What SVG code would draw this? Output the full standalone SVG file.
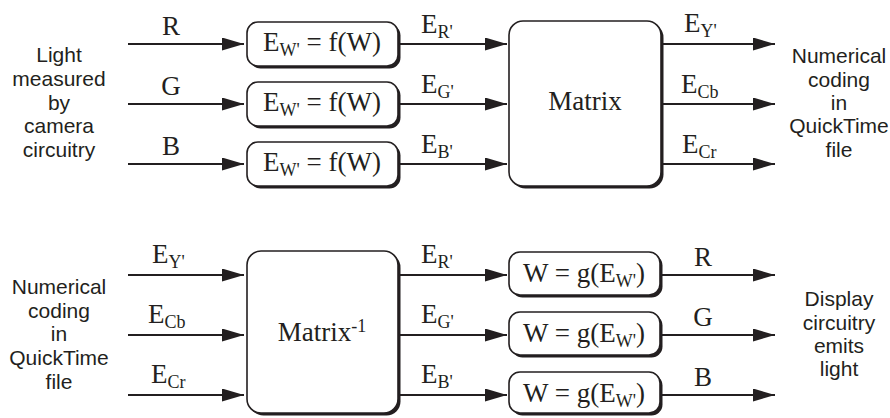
<svg xmlns="http://www.w3.org/2000/svg" width="890" height="418" viewBox="0 0 890 418">
<style>
.ln{stroke:#231f20;stroke-width:2;fill:none}
.bx{fill:#fff;stroke:#231f20;stroke-width:1.6}
.sh{fill:#231f20;stroke:none}
.sf{font-family:"Liberation Sans",Arial,sans-serif;font-size:21px;fill:#231f20;text-anchor:middle}
.tm{font-family:"Liberation Serif","Times New Roman",serif;font-size:27px;fill:#231f20}
.mid{text-anchor:middle}
.sub{font-size:18px}
</style>
<defs>
<marker id="ah" markerUnits="userSpaceOnUse" markerWidth="23" markerHeight="13" refX="22" refY="6.5" orient="auto">
<path d="M0,0 L22,6.5 L0,13 z" fill="#231f20"/>
</marker>
</defs>
<g id="connectors">
<line class="ln" x1="128" y1="44" x2="244" y2="44" marker-end="url(#ah)"/>
<line class="ln" x1="128" y1="104" x2="244" y2="104" marker-end="url(#ah)"/>
<line class="ln" x1="128" y1="164" x2="244" y2="164" marker-end="url(#ah)"/>
<line class="ln" x1="398" y1="44" x2="507" y2="44" marker-end="url(#ah)"/>
<line class="ln" x1="398" y1="104" x2="507" y2="104" marker-end="url(#ah)"/>
<line class="ln" x1="398" y1="164" x2="507" y2="164" marker-end="url(#ah)"/>
<line class="ln" x1="661" y1="44" x2="775" y2="44" marker-end="url(#ah)"/>
<line class="ln" x1="661" y1="104" x2="775" y2="104" marker-end="url(#ah)"/>
<line class="ln" x1="661" y1="164" x2="775" y2="164" marker-end="url(#ah)"/>
<line class="ln" x1="128" y1="275" x2="244" y2="275" marker-end="url(#ah)"/>
<line class="ln" x1="128" y1="335" x2="244" y2="335" marker-end="url(#ah)"/>
<line class="ln" x1="128" y1="395" x2="244" y2="395" marker-end="url(#ah)"/>
<line class="ln" x1="398" y1="275" x2="507" y2="275" marker-end="url(#ah)"/>
<line class="ln" x1="398" y1="335" x2="507" y2="335" marker-end="url(#ah)"/>
<line class="ln" x1="398" y1="395" x2="507" y2="395" marker-end="url(#ah)"/>
<line class="ln" x1="661" y1="275" x2="775" y2="275" marker-end="url(#ah)"/>
<line class="ln" x1="661" y1="335" x2="775" y2="335" marker-end="url(#ah)"/>
<line class="ln" x1="661" y1="395" x2="775" y2="395" marker-end="url(#ah)"/>
<text class="tm mid" x="171" y="35">R</text>
<text class="tm mid" x="171" y="95">G</text>
<text class="tm mid" x="171" y="155">B</text>
<text class="tm" x="421" y="33">E<tspan class="sub" dy="5">R'</tspan></text>
<text class="tm" x="421" y="93">E<tspan class="sub" dy="5">G'</tspan></text>
<text class="tm" x="421" y="153">E<tspan class="sub" dy="5">B'</tspan></text>
<text class="tm" x="684" y="32">E<tspan class="sub" dy="5">Y'</tspan></text>
<text class="tm" x="681" y="93">E<tspan class="sub" dy="5">Cb</tspan></text>
<text class="tm" x="682" y="153">E<tspan class="sub" dy="5">Cr</tspan></text>
<text class="tm" x="152" y="263">E<tspan class="sub" dy="5">Y'</tspan></text>
<text class="tm" x="148" y="323">E<tspan class="sub" dy="5">Cb</tspan></text>
<text class="tm" x="151" y="383">E<tspan class="sub" dy="5">Cr</tspan></text>
<text class="tm" x="421" y="263">E<tspan class="sub" dy="5">R'</tspan></text>
<text class="tm" x="421" y="323">E<tspan class="sub" dy="5">G'</tspan></text>
<text class="tm" x="421" y="383">E<tspan class="sub" dy="5">B'</tspan></text>
<text class="tm mid" x="703" y="266">R</text>
<text class="tm mid" x="703" y="326">G</text>
<text class="tm mid" x="703" y="386">B</text>
</g>
<g id="camera-label">
<text class="sf" x="59" y="62">Light</text>
<text class="sf" x="59" y="86">measured</text>
<text class="sf" x="59" y="110">by</text>
<text class="sf" x="59" y="133">camera</text>
<text class="sf" x="59" y="157">circuitry</text>
</g>
<g id="file-out-label">
<text class="sf" x="839" y="63">Numerical</text>
<text class="sf" x="839" y="87">coding</text>
<text class="sf" x="839" y="110">in</text>
<text class="sf" x="839" y="133">QuickTime</text>
<text class="sf" x="839" y="157">file</text>
</g>
<g id="file-in-label">
<text class="sf" x="59" y="294">Numerical</text>
<text class="sf" x="59" y="318">coding</text>
<text class="sf" x="59" y="341">in</text>
<text class="sf" x="59" y="365">QuickTime</text>
<text class="sf" x="59" y="389">file</text>
</g>
<g id="display-label">
<text class="sf" x="839" y="306">Display</text>
<text class="sf" x="839" y="330">circuitry</text>
<text class="sf" x="839" y="353">emits</text>
<text class="sf" x="839" y="376">light</text>
</g>
<g id="f1">
<rect class="sh" x="249.5" y="24.5" width="151" height="44" rx="11"/>
<rect class="bx" x="247" y="22" width="151" height="44" rx="11"/>
<text class="tm mid" x="322" y="51">E<tspan class="sub" dy="5">W'</tspan><tspan dy="-5"> = f(W)</tspan></text>
</g>
<g id="f2">
<rect class="sh" x="249.5" y="84.5" width="151" height="44" rx="11"/>
<rect class="bx" x="247" y="82" width="151" height="44" rx="11"/>
<text class="tm mid" x="322" y="111">E<tspan class="sub" dy="5">W'</tspan><tspan dy="-5"> = f(W)</tspan></text>
</g>
<g id="f3">
<rect class="sh" x="249.5" y="144.5" width="151" height="44" rx="11"/>
<rect class="bx" x="247" y="142" width="151" height="44" rx="11"/>
<text class="tm mid" x="322" y="171">E<tspan class="sub" dy="5">W'</tspan><tspan dy="-5"> = f(W)</tspan></text>
</g>
<g id="matrix">
<rect class="sh" x="511.5" y="23.5" width="152" height="165" rx="14"/>
<rect class="bx" x="509" y="21" width="152" height="165" rx="14"/>
<text class="tm mid" x="585" y="110">Matrix</text>
</g>
<g id="matrix-inv">
<rect class="sh" x="249.5" y="253.5" width="151" height="162" rx="14"/>
<rect class="bx" x="247" y="251" width="151" height="162" rx="14"/>
<text class="tm mid" x="322" y="341">Matrix<tspan class="sub" dy="-9">-1</tspan></text>
</g>
<g id="g1">
<rect class="sh" x="511.5" y="254.5" width="151" height="43" rx="11"/>
<rect class="bx" x="509" y="252" width="151" height="43" rx="11"/>
<text class="tm mid" x="584" y="282">W = g(E<tspan class="sub" dy="5">W'</tspan><tspan dy="-5">)</tspan></text>
</g>
<g id="g2">
<rect class="sh" x="511.5" y="314.5" width="151" height="43" rx="11"/>
<rect class="bx" x="509" y="312" width="151" height="43" rx="11"/>
<text class="tm mid" x="584" y="342">W = g(E<tspan class="sub" dy="5">W'</tspan><tspan dy="-5">)</tspan></text>
</g>
<g id="g3">
<rect class="sh" x="511.5" y="374.5" width="151" height="41" rx="11"/>
<rect class="bx" x="509" y="372" width="151" height="41" rx="11"/>
<text class="tm mid" x="584" y="402">W = g(E<tspan class="sub" dy="5">W'</tspan><tspan dy="-5">)</tspan></text>
</g>
</svg>
